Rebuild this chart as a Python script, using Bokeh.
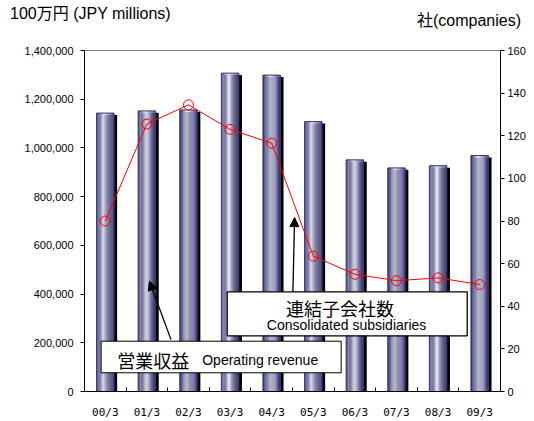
from bokeh.plotting import figure
from bokeh.layouts import column
from bokeh.models import (ColumnDataSource, Range1d, LinearAxis, FixedTicker, SingleIntervalTicker,
                          NumeralTickFormatter, BoxAnnotation, Arrow, NormalHead, Label, Div)
from bokeh.transform import dodge
from bokeh.embed import file_html
from bokeh.resources import INLINE

# ---- data ----
categories = ["00/3", "01/3", "02/3", "03/3", "04/3", "05/3", "06/3", "07/3", "08/3", "09/3"]
revenue = [1143000, 1152000, 1156000, 1307000, 1299000, 1108000, 951000, 918000, 927000, 969000]
subsidiaries = [80, 125.5, 134.5, 123, 116.5, 63.5, 55, 52, 53.3, 50.2]
left_ticks_max = 1400000
right_ticks_max = 160
left_header = "100万円 (JPY millions)"
right_header = "社(companies)"

xs = [i + 0.5 for i in range(len(categories))]
src = ColumnDataSource(dict(x=xs, rev=revenue,
                            shadow=[r - 8000 for r in revenue], subs=subsidiaries))

cjk = "Noto Sans CJK JP"

header = Div(
    text=('<div style="position:relative;width:534px;height:28px;'
          "font-family:'Liberation Sans','Noto Sans CJK JP',sans-serif;font-size:16px;"
          'line-height:20px;color:black;">'
          '<span style="position:absolute;left:10px;top:4px;white-space:nowrap;">%s</span>'
          '<span style="position:absolute;right:13px;top:11px;white-space:nowrap;">%s</span>'
          '</div>') % (left_header, right_header),
    width=534, height=28, margin=0)

p = figure(width=534, height=393, output_backend="svg", toolbar_location=None, title=None,
           x_range=Range1d(0, len(categories)), y_range=Range1d(0, left_ticks_max),
           min_border_left=84, min_border_right=34, min_border_top=22, min_border_bottom=30,
           background_fill_color="white", border_fill_color="white", margin=0)
p.extra_y_ranges = {"right": Range1d(0, right_ticks_max)}
p.grid.visible = False
p.outline_line_color = "#808080"

BAR_W = 0.42
# shadow
p.vbar(x=dodge("x", 0.075), top="shadow", width=BAR_W, bottom=0, source=src,
       fill_color="black", line_color=None)
# gradient stripes
N = 16
stops = [(0.0, (40, 40, 118)), (0.42, (232, 232, 248)), (1.0, (62, 62, 135))]
def grad(t):
    for (t0, c0), (t1, c1) in zip(stops[:-1], stops[1:]):
        if t0 <= t <= t1:
            f = (t - t0) / (t1 - t0)
            return "#%02x%02x%02x" % tuple(int(a + (b - a) * f) for a, b in zip(c0, c1))
    return "#%02x%02x%02x" % stops[-1][1]
sw = BAR_W / N
for k in range(N):
    off = -BAR_W / 2 + sw * (k + 0.5)
    p.vbar(x=dodge("x", off), top="rev", width=sw * 1.08, bottom=0, source=src,
           fill_color=grad((k + 0.5) / N), line_color=None)
p.vbar(x="x", top="rev", width=BAR_W, bottom=0, source=src,
       fill_color=None, line_color="#3a3a60", line_width=1)

# line
p.line("x", "subs", source=src, y_range_name="right", line_color="#ff0000", line_width=1)
p.scatter("x", "subs", source=src, y_range_name="right", marker="circle", size=10,
          fill_color=None, line_color="#ff0000", line_width=1)

# axes
xa = p.xaxis[0]
xa.ticker = FixedTicker(ticks=xs, minor_ticks=list(range(1, len(categories))))
xa.major_label_overrides = {x: c for x, c in zip(xs, categories)}
xa.major_tick_line_color = None
xa.major_tick_in = 0
xa.major_tick_out = 0
xa.minor_tick_in = 4
xa.minor_tick_out = 0
xa.minor_tick_line_color = "black"
xa.axis_line_color = "black"
xa.major_label_standoff = 14
xa.major_label_text_font = "DejaVu Sans Mono"
xa.major_label_text_font_size = "11px"
xa.major_label_text_color = "black"

ya = p.yaxis[0]
ya.ticker = SingleIntervalTicker(interval=200000, num_minor_ticks=0)
ya.formatter = NumeralTickFormatter(format="0,0")
ya.major_tick_in = 0
ya.major_tick_out = 4
ya.minor_tick_line_color = None
ya.major_label_standoff = 7
ya.major_label_text_font = "Liberation Sans"
ya.major_label_text_font_size = "11px"
ya.major_label_text_color = "black"
ya.axis_line_color = "black"

ra = LinearAxis(y_range_name="right", ticker=SingleIntervalTicker(interval=20, num_minor_ticks=0))
ra.major_tick_in = 0
ra.major_tick_out = 4
ra.minor_tick_line_color = None
ra.major_label_standoff = 3
ra.major_label_text_font = "Liberation Sans"
ra.major_label_text_font_size = "11px"
ra.major_label_text_color = "black"
ra.axis_line_color = "black"
p.add_layout(ra, "right")

# annotation boxes
p.add_layout(BoxAnnotation(left=0.40, right=6.17, top=206500, bottom=76800,
                           fill_color="white", fill_alpha=1, line_color="black",
                           line_width=1, line_alpha=1))
p.add_layout(BoxAnnotation(left=3.43, right=9.20, top=409300, bottom=228700,
                           fill_color="white", fill_alpha=1, line_color="black",
                           line_width=1.3, line_alpha=1))
p.add_layout(Arrow(end=NormalHead(size=9, fill_color="black", line_color="black"),
                   x_start=2.08, y_start=213000, x_end=1.56, y_end=453000,
                   line_color="black", line_width=1.3))
p.add_layout(Arrow(end=NormalHead(size=9, fill_color="black", line_color="black"),
                   x_start=5.01, y_start=409300, x_end=5.05, y_end=714000,
                   line_color="black", line_width=1.3))

p.add_layout(Label(x=0.79, y=130000, text="営業収益", text_font=cjk, text_font_size="18px",
                   text_baseline="middle", text_align="left", text_color="black"))
p.add_layout(Label(x=2.83, y=128000, text="Operating revenue", text_font="Liberation Sans",
                   text_font_size="14px", text_baseline="middle", text_align="left",
                   text_color="black"))
p.add_layout(Label(x=6.14, y=344000, text="連結子会社数", text_font=cjk, text_font_size="18px",
                   text_baseline="middle", text_align="center", text_color="black"))
p.add_layout(Label(x=6.30, y=271000, text="Consolidated subsidiaries", text_font="Liberation Sans",
                   text_font_size="14px", text_baseline="middle", text_align="center",
                   text_color="black"))

layout = column(header, p, spacing=0, margin=0)
open("out.html", "w").write(file_html(layout, INLINE))
